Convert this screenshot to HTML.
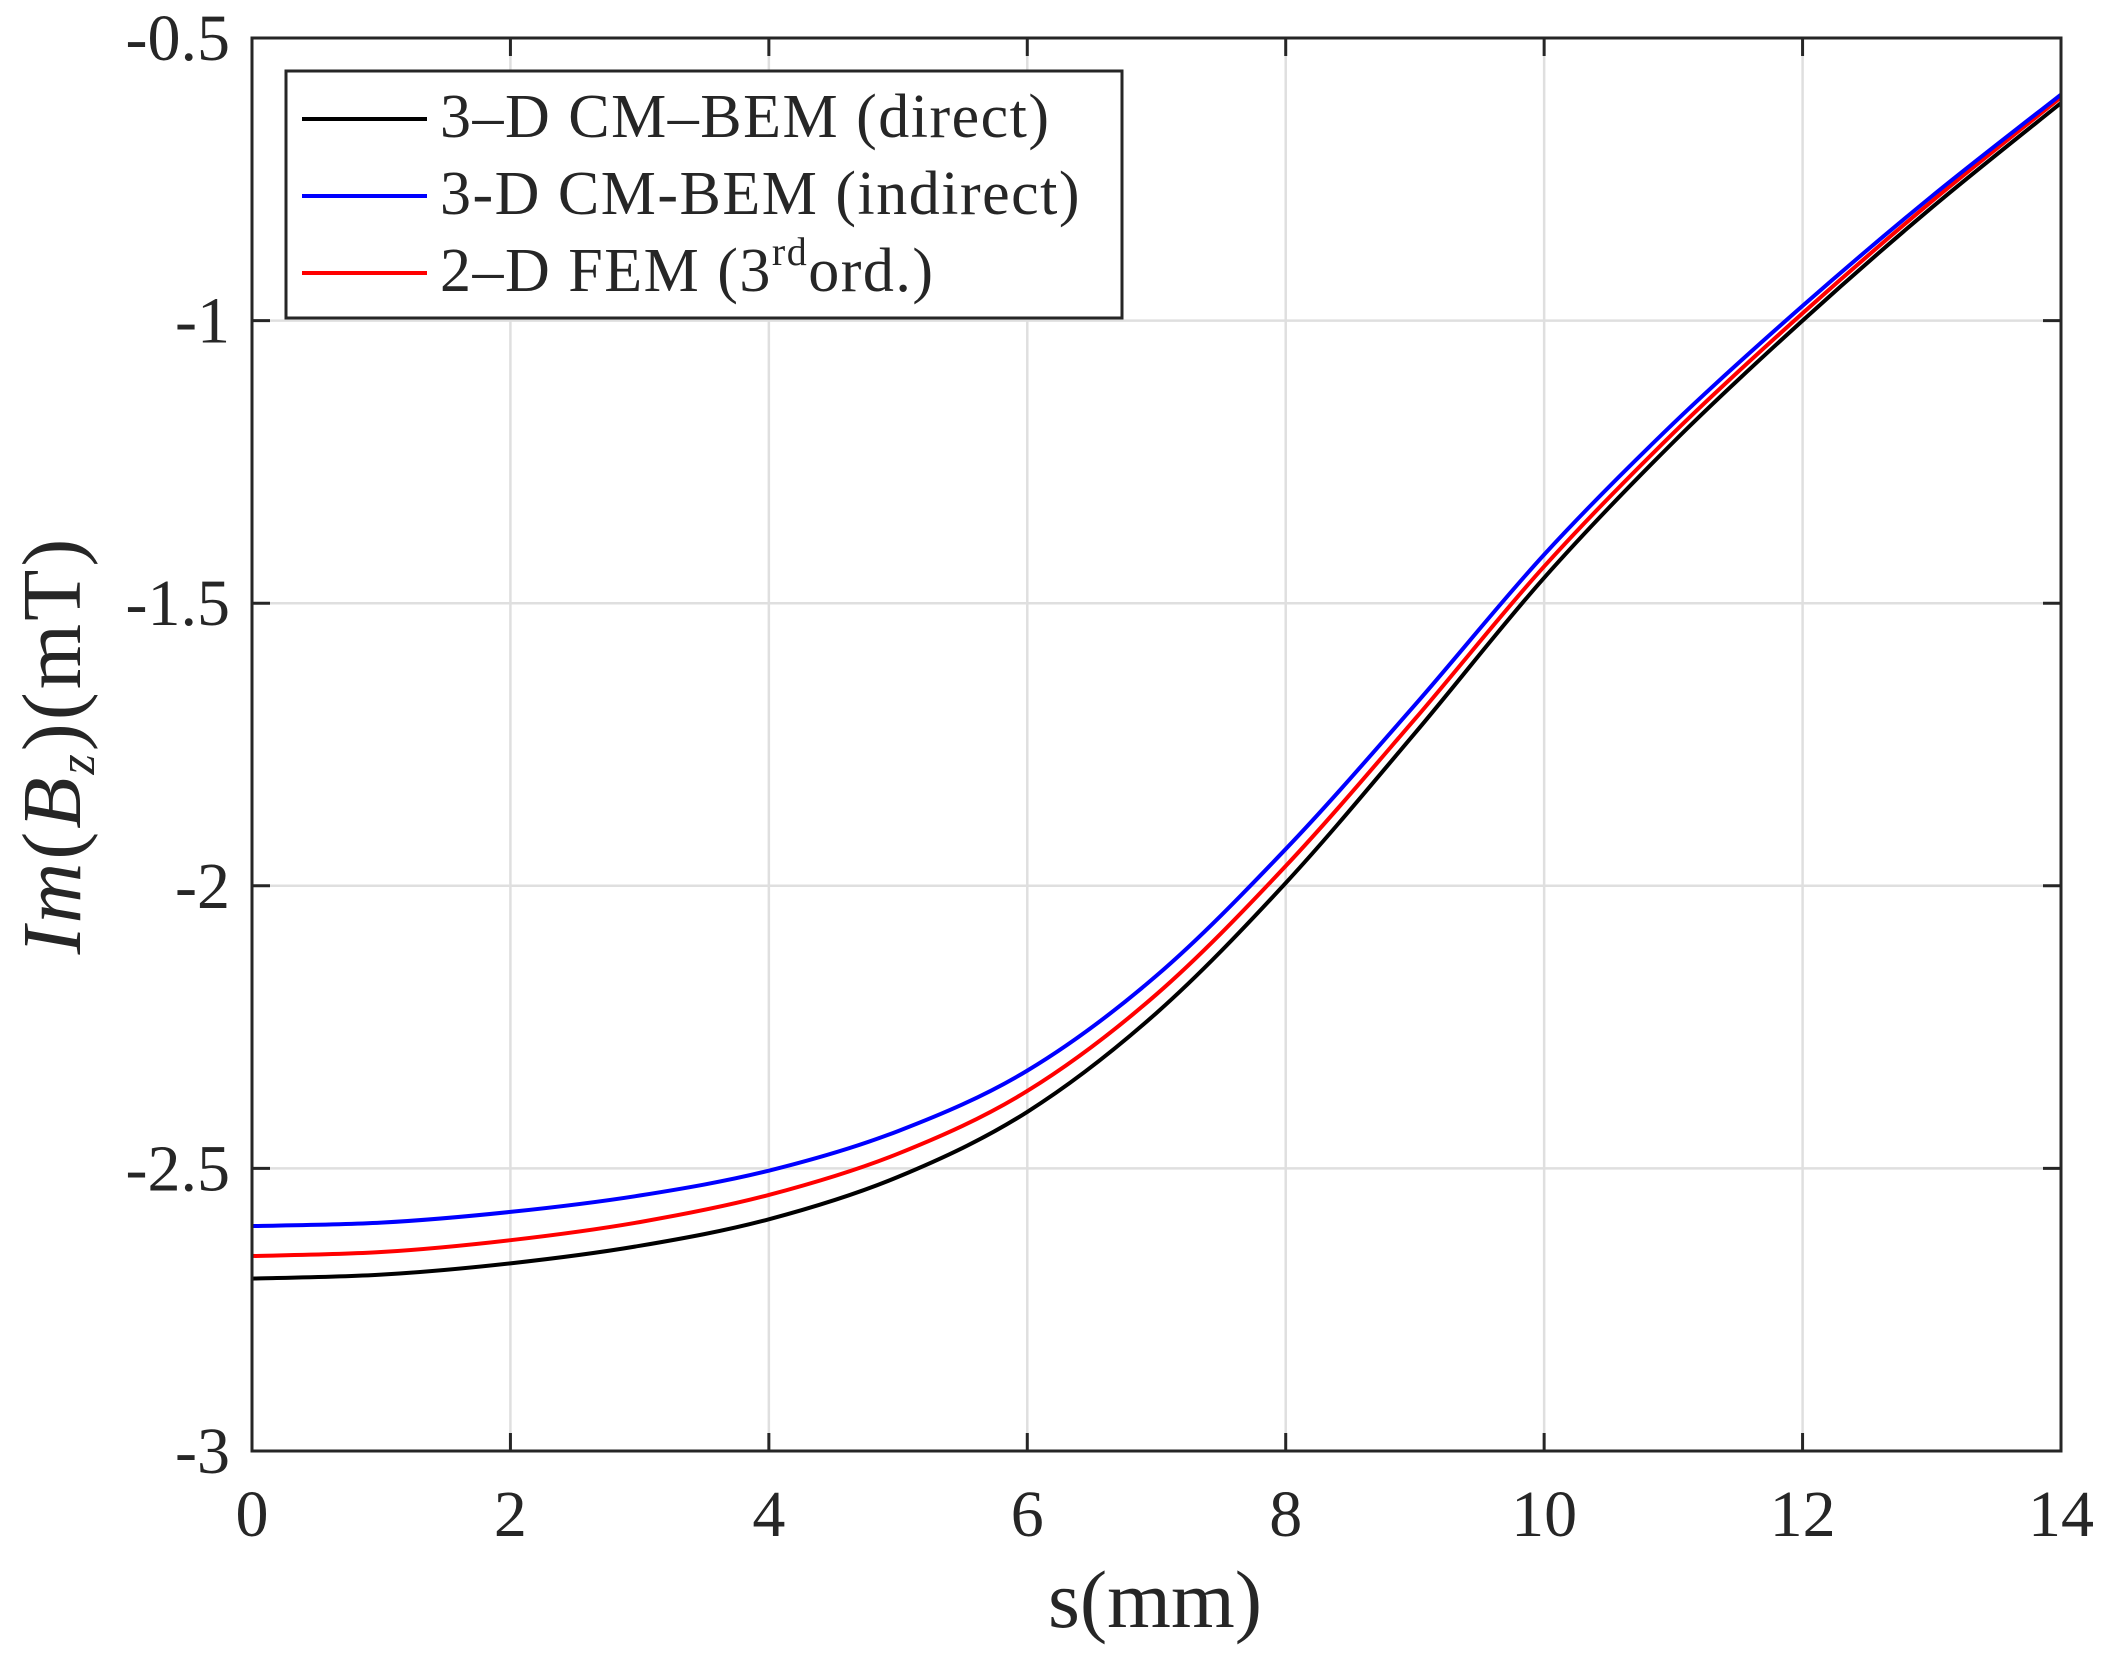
<!DOCTYPE html>
<html><head><style>body{margin:0;background:#fff}svg{display:block}</style></head>
<body>
<svg id="s" width="2105" height="1659" xmlns="http://www.w3.org/2000/svg" font-family="Liberation Serif, serif" fill="#262626">
<rect width="2105" height="1659" fill="#fff"/>
<g id="grid" stroke="#dfdfdf" stroke-width="2.5"></g>
<g id="curves" fill="none" stroke-width="4"></g>
<rect x="252" y="38" width="1809" height="1413" fill="none" stroke="#262626" stroke-width="3"/>
<g id="ticks" stroke="#262626" stroke-width="3"></g>
<g id="labels" font-size="66"></g>
<text x="1155" y="1627" font-size="82" text-anchor="middle">s(mm)</text>
<text transform="translate(80,745) rotate(-90)" font-size="84" letter-spacing="3" text-anchor="middle"><tspan font-style="italic">Im</tspan>(<tspan font-style="italic">B</tspan><tspan font-style="italic" font-size="52" dy="14">z</tspan><tspan dy="-14">)(mT)</tspan></text>
<rect x="286" y="71" width="836" height="247" fill="#fff" stroke="#262626" stroke-width="3"/>
<line x1="302" y1="119" x2="427" y2="119" stroke="#000" stroke-width="4"/>
<line x1="302" y1="196" x2="427" y2="196" stroke="#0000ff" stroke-width="4"/>
<line x1="302" y1="273" x2="427" y2="273" stroke="#ff0000" stroke-width="4"/>
<g font-size="62" letter-spacing="1.5">
<text x="440" y="137">3–D CM–BEM (direct)</text>
<text x="440" y="214">3-D CM-BEM (indirect)</text>
<text x="440" y="291">2–D FEM (3<tspan font-size="40" dy="-26">rd</tspan><tspan dy="26">ord.)</tspan></text>
</g>
</svg>
<script>
const X=s=>252+s*1809/14, Y=v=>38+(-0.5-v)*1413/2.5, ns="http://www.w3.org/2000/svg";
function el(p,t,a,txt){const e=document.createElementNS(ns,t);for(const k in a)e.setAttribute(k,a[k]);if(txt!=null)e.textContent=txt;document.getElementById(p).appendChild(e);}
for(let s=2;s<14;s+=2)el('grid','line',{x1:X(s),y1:38,x2:X(s),y2:1451});
for(let v=-1;v>-3;v-=0.5)el('grid','line',{x1:252,y1:Y(v),x2:2061,y2:Y(v)});
for(let s=0;s<=14;s+=2){el('ticks','line',{x1:X(s),y1:1451,x2:X(s),y2:1433});el('ticks','line',{x1:X(s),y1:38,x2:X(s),y2:56});
 el('labels','text',{x:X(s),y:1536,'text-anchor':'middle'},String(s));}
for(let i=0;i<=5;i++){const v=-0.5-0.5*i;el('ticks','line',{x1:252,y1:Y(v),x2:270,y2:Y(v)});el('ticks','line',{x1:2061,y1:Y(v),x2:2043,y2:Y(v)});
 el('labels','text',{x:230,y:Y(v)+22,'text-anchor':'end'},String(v));}
const blk=[-2.695,-2.688,-2.668,-2.637,-2.59,-2.515,-2.40,-2.225,-1.995,-1.73,-1.455,-1.215,-1.0,-0.80,-0.615];
const ro=[0.04,0.04,0.041,0.042,0.043,0.041,0.037,0.033,0.03,0.025,0.02,0.016,0.013,0.011,0.01];
const bo=[0.093,0.092,0.091,0.089,0.086,0.081,0.073,0.066,0.06,0.05,0.041,0.033,0.026,0.02,0.015];
const data={"#000":blk,"#ff0000":blk.map((v,i)=>v+ro[i]),"#0000ff":blk.map((v,i)=>v+bo[i])};
for(const c of ["#000","#ff0000","#0000ff"]){const p=data[c].map((v,i)=>[X(i),Y(v)]);let d="M"+p[0];
 for(let i=0;i<p.length-1;i++){const p0=p[Math.max(0,i-1)],p1=p[i],p2=p[i+1],p3=p[Math.min(p.length-1,i+2)];
  d+=`C${p1[0]+(p2[0]-p0[0])/6},${p1[1]+(p2[1]-p0[1])/6} ${p2[0]-(p3[0]-p1[0])/6},${p2[1]-(p3[1]-p1[1])/6} ${p2[0]},${p2[1]}`;}
 el('curves','path',{d,stroke:c});}
</script>
</body></html>
